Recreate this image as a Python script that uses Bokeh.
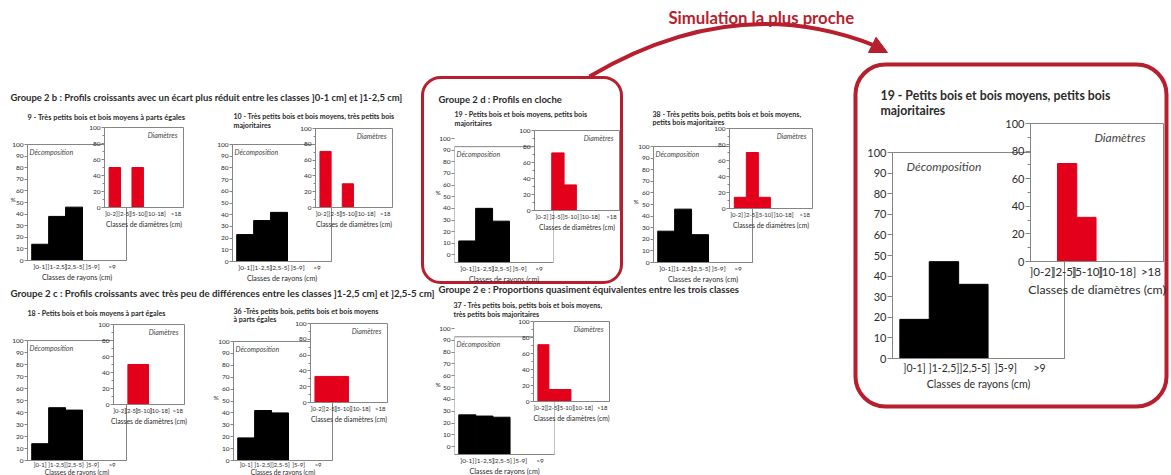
from bokeh.plotting import figure
from bokeh.models import (Range1d, FixedTicker, Label, BoxAnnotation, GridBox,
                          Arrow, NormalHead)
from bokeh.core.properties import value
from bokeh.embed import file_html
from bokeh.resources import INLINE

# ---------------- data ----------------
ray_classes = ["]0-1]", "]1-2,5]", "]2,5-5]", "]5-9]", ">9"]
diam_classes = ["]0-2]", "]2-5]", "]5-10]", "]10-18]", ">18"]

decomp_9 = [14, 38, 46, 0, 0]
diam_9 = [50, 0, 50, 0, 0]
decomp_10 = [23, 35, 42, 0, 0]
diam_10 = [71, 0, 30, 0, 0]
decomp_18 = [14, 44, 42, 0, 0]
diam_18 = [0, 50, 50, 0, 0]
decomp_36 = [19, 42, 40, 0, 0]
diam_36 = [33, 33, 33, 0, 0]
decomp_19 = [12, 40, 29, 0, 0]
diam_19 = [0, 72, 32, 0, 0]
decomp_38 = [27, 46, 24, 0, 0]
diam_38 = [14, 70, 14, 0, 0]
decomp_37 = [27, 26, 25, 0, 0]
diam_37 = [71, 15, 15, 0, 0]
decomp_sim = [19, 47, 36, 0, 0]
diam_sim = [0, 71, 32, 0, 0]

# ---------------- styles / layout ----------------
FONT = "Lato"
RED_BAR = "#e3001b"
RED_DARK = "#b71f2e"
GREY = "#858585"
TXT = "#2b2b2b"
W, H = 1171, 475

ray_pos = [0, 1, 2, 3, 4]
ray_label_pos = [0, 1, 2.05, 3.1, 4.25]
diam_pos = [0, 1, 2, 3, 4]
diam_label_pos = [-0.3, 0.85, 2.05, 3.6, 5.35]

SMALL = dict(tick="6.5px", dxtick="6.5px", mxtick="6px", daxlab="7.2px", maxlab="6.8px",
             inner="7px", tick_out=3, border=(18, 4, 5, 22), in_dx=2, in_dy=-3,
             d_dx=-6, std=(2, 0))
TIGHT = dict(SMALL, dxtick="6px", daxlab="6.6px", std=(0, -3))
BIG = dict(tick="11px", dxtick="10.5px", mxtick="11.5px", daxlab="10.6px", maxlab="12.3px",
           inner="12px", tick_out=5, border=(32, 5, 5, 36), in_dx=14, in_dy=-6,
           d_dx=-18, std=(3, 1))

children = []


def place(fig, left, top):
    children.append((fig, int(top), int(left), fig.height, fig.width))


def chart_fig(frame, xr, yr, st):
    fl, fr, ft, fb = frame
    bl, br, bt, bb = st["border"]
    fw, fh = fr - fl, fb - ft
    p = figure(width=fw + bl + br, height=fh + bt + bb, x_range=xr, y_range=yr,
               min_border_left=bl, min_border_right=br, min_border_top=bt,
               min_border_bottom=bb, toolbar_location=None, tools="",
               output_backend="svg")
    p.border_fill_color = None
    p.background_fill_color = "white"
    p.outline_line_color = GREY
    p.grid.visible = False
    for ax in (p.xaxis[0], p.yaxis[0]):
        ax.axis_line_color = GREY
        ax.major_tick_line_color = GREY
        ax.minor_tick_line_color = GREY
        ax.major_label_text_color = TXT
        ax.major_label_text_font = FONT
        ax.axis_label_text_font = FONT
        ax.axis_label_text_font_style = "normal"
        ax.axis_label_text_color = TXT
    place(p, fl - bl, ft - bt)
    return p


def style_x(xax, st, tick_size, lab_size):
    xax.major_tick_out = 0
    xax.major_tick_in = 0
    s1, s2 = st["std"]
    xax.major_label_standoff = s1
    xax.axis_label_standoff = s2
    xax.major_label_text_font_size = tick_size
    xax.axis_label_text_font_size = lab_size


def decomp_chart(vals, frame, ystart, box_top, st):
    p = chart_fig(frame, Range1d(-0.75, 5.1), Range1d(ystart, 100), st)
    xs = [x for x, v in zip(ray_pos, vals) if v > 0]
    ys = [v for v in vals if v > 0]
    p.vbar(x=xs, top=ys, bottom=ystart, width=1, fill_color="black", line_color="black")
    yax = p.yaxis[0]
    yax.ticker = FixedTicker(ticks=list(range(0, 101, 10)))
    yax.major_label_text_font_size = st["tick"]
    yax.major_tick_out = st["tick_out"]
    yax.major_tick_in = 0
    yax.minor_tick_out = 0
    yax.major_label_standoff = 1
    xax = p.xaxis[0]
    xax.ticker = FixedTicker(ticks=ray_label_pos)
    xax.major_label_overrides = dict(zip(ray_label_pos, ray_classes))
    xax.axis_label = "Classes de rayons (cm)"
    style_x(xax, st, st["dxtick"], st["daxlab"])
    top = 100
    if box_top is not None:
        top = box_top
        p.outline_line_color = None
        yax.axis_line_color = None
        p.add_layout(BoxAnnotation(top=box_top, fill_color=None, fill_alpha=0,
                                   line_color=GREY, line_alpha=1, line_width=1))
    p.add_layout(Label(x=-0.75, y=top, x_offset=st["in_dx"], y_offset=st["in_dy"],
                       text="Décomposition", text_font=FONT, text_font_style="italic",
                       text_font_size=st["inner"], text_color="#444444",
                       text_baseline="top"))
    return p


def diam_chart(vals, frame, st):
    p = chart_fig(frame, Range1d(-0.9, 6.0), Range1d(0, 100), st)
    xs = [x for x, v in zip(diam_pos, vals) if v > 0]
    ys = [v for v in vals if v > 0]
    p.vbar(x=xs, top=ys, width=1, fill_color=RED_BAR, line_color=RED_BAR)
    yax = p.yaxis[0]
    yax.ticker = FixedTicker(ticks=list(range(0, 101, 20)),
                             minor_ticks=list(range(10, 100, 20)))
    yax.major_label_text_font_size = st["tick"]
    yax.major_tick_out = st["tick_out"]
    yax.major_tick_in = 0
    yax.minor_tick_out = st["tick_out"] // 2 + 1
    yax.minor_tick_in = 0
    yax.major_label_standoff = 1
    xax = p.xaxis[0]
    xax.ticker = FixedTicker(ticks=diam_label_pos)
    xax.major_label_overrides = dict(zip(diam_label_pos, diam_classes))
    xax.axis_label = "Classes de diamètres (cm)"
    style_x(xax, st, st["mxtick"], st["maxlab"])
    p.add_layout(Label(x=6.0, y=100, x_offset=st["d_dx"], y_offset=st["in_dy"],
                       text="Diamètres", text_font=FONT, text_font_style="italic",
                       text_font_size=st["inner"], text_color="#444444",
                       text_align="right", text_baseline="top"))
    return p


# ---------------- background (titles, frames, arrow) ----------------
bg = figure(width=W, height=H, x_range=Range1d(0, W), y_range=Range1d(H, 0),
            x_axis_type=None, y_axis_type=None,
            min_border_left=0, min_border_right=0, min_border_top=0, min_border_bottom=0,
            toolbar_location=None, tools="", output_backend="svg")
bg.outline_line_color = None
bg.background_fill_color = "white"
bg.border_fill_color = "white"
bg.grid.visible = False
place(bg, 0, 0)


def txt(x, y, s, size, style="normal", color=TXT):
    bg.text(x=[x], y=[y], text=[s], text_font=value(FONT), text_font_size=size,
            text_font_style=style, text_color=color, text_baseline="middle",
            text_align="left")


# group frames
bg.add_layout(BoxAnnotation(left=422, right=621, top=77, bottom=282, fill_color=None,
                            fill_alpha=0, line_color=RED_DARK, line_alpha=1,
                            line_width=3, border_radius=18))
bg.add_layout(BoxAnnotation(left=855, right=1166, top=64, bottom=406, fill_color=None,
                            fill_alpha=0, line_color=RED_DARK, line_alpha=1,
                            line_width=4, border_radius=30))

# arrow
bg.quadratic(x0=[589], y0=[76], x1=[874], y1=[45], cx=[735], cy=[-10],
             line_color=RED_DARK, line_width=4)
bg.add_layout(Arrow(x_start=868, y_start=42.5, x_end=887, y_end=52,
                    line_alpha=0, line_width=1,
                    end=NormalHead(size=17, fill_color=RED_DARK, line_color=RED_DARK)))
txt(668, 17, "Simulation la plus proche", "16.7px", "bold", RED_DARK)

# headings
txt(10, 97, "Groupe 2 b : Profils croissants avec un écart plus réduit entre les classes ]0-1 cm] et ]1-2,5 cm]", "9.45px", "bold")
txt(10, 292, "Groupe 2 c : Profils croissants avec  très peu de différences entre les classes ]1-2,5 cm] et ]2,5-5 cm]", "9.7px", "bold")
txt(438, 98.5, "Groupe 2 d : Profils en cloche", "9.5px", "bold")
txt(438, 289, "Groupe 2 e : Proportions quasiment équivalentes entre les trois classes", "9.6px", "bold")

# chart titles
TS = "7.1px"
txt(27, 117, "9 - Très petits bois et bois moyens à parts égales", "7.4px", "bold")
txt(233, 116, "10 - Très petits bois et bois moyens, très petits bois", TS, "bold")
txt(233, 124.5, "majoritaires", TS, "bold")
txt(27, 313, "18 - Petits bois et bois moyens à part égales", TS, "bold")
txt(233, 310.5, "36 -Très petits bois, petits bois et bois moyens", TS, "bold")
txt(233, 319, "à parts égales", TS, "bold")
txt(454, 113.5, "19 - Petits bois et bois moyens, petits bois", TS, "bold")
txt(454, 122.5, "majoritaires", TS, "bold")
txt(652, 113.5, "38 - Très petits bois, petits bois et bois moyens,", TS, "bold")
txt(652, 122, "petits bois majoritaires", TS, "bold")
txt(453, 305, "37 - Très petits bois, petits bois et bois moyens,", TS, "bold")
txt(453, 313.5, "très petits bois majoritaires", TS, "bold")
txt(880, 95, "19 - Petits bois et bois moyens, petits bois", "12.3px", "bold")
txt(880, 110, "majoritaires", "12.3px", "bold")

# "%" axis names
for (px, py) in [(10, 199), (213, 397), (435, 192), (633, 201), (435, 384)]:
    txt(px, py, "%", "6.5px")

# ---------------- charts ----------------
small_charts = [
    (decomp_9, diam_9, (27, 126, 144, 262), 0, None, (104, 183, 127, 208), SMALL),
    (decomp_10, diam_10, (232, 331, 144, 263), 0, None, (315, 392, 128, 208), SMALL),
    (decomp_18, diam_18, (27, 126, 340, 460), 0, None, (113, 184, 324, 405), TIGHT),
    (decomp_36, diam_36, (233, 332, 341, 460), 0, None, (310, 387, 323, 403), TIGHT),
    (decomp_19, diam_19, (454, 553, 138, 264), -6.5, 93, (534, 619, 130, 211), SMALL),
    (decomp_38, diam_38, (653, 752, 146, 264), 0, None, (729, 812, 128, 209), SMALL),
    (decomp_37, diam_37, (454, 554, 328, 456), -6.5, 93, (533, 609, 321, 402), SMALL),
]
for dv, mv, dframe, ystart, btop, mframe, st in small_charts:
    decomp_chart(dv, dframe, ystart, btop, st)
    diam_chart(mv, mframe, SMALL)

decomp_chart(decomp_sim, (892, 1064, 152, 358), 0, None, BIG)
diam_chart(diam_sim, (1030, 1163, 123, 263), BIG)

layout = GridBox(children=children, rows="1px", cols="1px", width=W, height=H,
                 styles={"overflow": "hidden"})

open("out.html", "w").write(file_html(layout, INLINE))
